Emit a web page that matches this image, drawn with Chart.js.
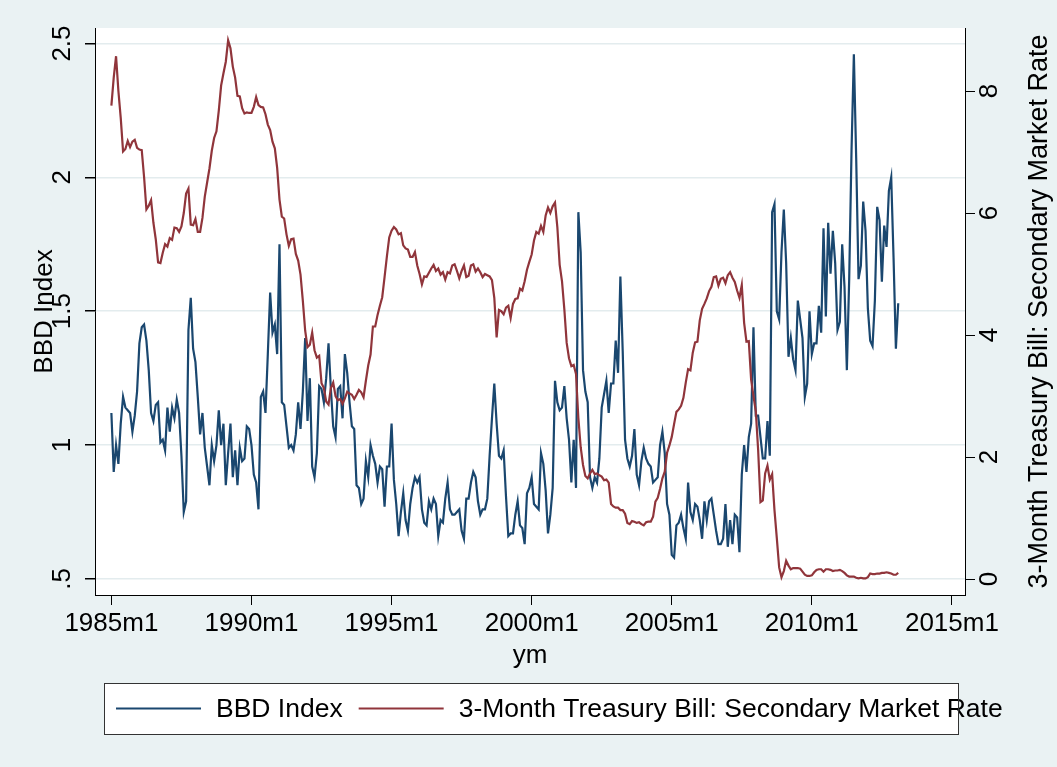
<!DOCTYPE html>
<html>
<head>
<meta charset="utf-8">
<title>BBD Index and 3-Month Treasury Bill</title>
<script src="https://cdn.jsdelivr.net/npm/chart.js@4.4.1/dist/chart.umd.min.js"></script>
<style>
  html, body { margin: 0; padding: 0; background: #eaf2f3; }
  #chart { display: block; }
</style>
</head>
<body>
<canvas id="chart" width="1057" height="767"></canvas>
<script>
// monthly values, the first one is 1985m1, the last one 2013m2
let bbd_index = [
    1.12, 0.90, 1.00, 0.93, 1.08, 1.18, 1.14, 1.13, 1.12, 1.05, 1.11, 1.20,
    1.38, 1.44, 1.45, 1.39, 1.28, 1.12, 1.09, 1.15, 1.16, 1.01, 1.02, 0.98,
    1.14, 1.05, 1.14, 1.10, 1.17, 1.12, 0.96, 0.75, 0.79, 1.43, 1.55, 1.36,
    1.31, 1.18, 1.04, 1.12, 0.99, 0.92, 0.85, 1.00, 0.94, 1.00, 1.13, 1.00,
    1.08, 0.85, 0.97, 1.08, 0.88, 0.98, 0.85, 0.99, 0.94, 0.95, 1.07, 1.06,
    1.00, 0.89, 0.86, 0.76, 1.18, 1.20, 1.12, 1.34, 1.57, 1.42, 1.45, 1.34,
    1.75, 1.16, 1.15, 1.07, 0.99, 1.00, 0.98, 1.04, 1.16, 1.06, 1.20, 1.40,
    1.09, 1.25, 0.92, 0.88, 0.97, 1.22, 1.21, 1.16, 1.25, 1.38, 1.21, 1.07,
    1.03, 1.21, 1.22, 1.10, 1.34, 1.27, 1.16, 1.07, 1.06, 0.85, 0.84, 0.78,
    0.80, 0.94, 0.88, 1.00, 0.96, 0.93, 0.86, 0.92, 0.91, 0.77, 0.92, 0.92,
    1.08, 0.87, 0.78, 0.66, 0.75, 0.82, 0.72, 0.68, 0.78, 0.84, 0.88, 0.86,
    0.88, 0.76, 0.71, 0.70, 0.79, 0.76, 0.80, 0.78, 0.66, 0.72, 0.71, 0.80,
    0.86, 0.76, 0.74, 0.74, 0.75, 0.76, 0.68, 0.65, 0.80, 0.80, 0.86, 0.90,
    0.88, 0.79, 0.74, 0.76, 0.76, 0.80, 0.96, 1.10, 1.23, 1.08, 0.96, 0.95,
    0.98, 0.81, 0.66, 0.67, 0.67, 0.74, 0.79, 0.70, 0.69, 0.63, 0.82, 0.84,
    0.88, 0.78, 0.77, 0.76, 0.97, 0.93, 0.83, 0.67, 0.74, 0.84, 1.24, 1.16,
    1.13, 1.14, 1.22, 1.10, 1.02, 0.86, 1.02, 0.84, 1.87, 1.72, 1.28, 1.20,
    1.16, 0.88, 0.84, 0.88, 0.86, 0.95, 1.14, 1.19, 1.24, 1.12, 1.23, 1.23,
    1.39, 1.27, 1.63, 1.35, 1.02, 0.95, 0.92, 0.96, 1.06, 0.89, 0.85, 0.94,
    0.99, 0.95, 0.93, 0.92, 0.86, 0.87, 0.88, 1.00, 1.05, 0.97, 0.78, 0.74,
    0.59, 0.58, 0.70, 0.71, 0.74, 0.69, 0.65, 0.86, 0.75, 0.72, 0.78, 0.77,
    0.72, 0.65, 0.79, 0.72, 0.79, 0.80, 0.74, 0.68, 0.63, 0.63, 0.65, 0.78,
    0.62, 0.72, 0.63, 0.74, 0.73, 0.60, 0.89, 1.00, 0.90, 1.03, 1.08, 1.44,
    1.11, 1.11, 1.03, 0.95, 0.95, 1.09, 0.96, 1.87, 1.90, 1.50, 1.47, 1.72,
    1.88, 1.68, 1.33, 1.40, 1.32, 1.28, 1.54, 1.47, 1.40, 1.18, 1.23, 1.50,
    1.34, 1.38, 1.38, 1.52, 1.42, 1.81, 1.48, 1.83, 1.64, 1.80, 1.68, 1.43,
    1.46, 1.75, 1.59, 1.28, 1.62, 2.10, 2.46, 2.07, 1.62, 1.67, 1.91, 1.80,
    1.51, 1.39, 1.37, 1.54, 1.89, 1.84, 1.61, 1.82, 1.74, 1.95, 2.00, 1.70,
    1.36, 1.53
];

let tbill_rate = [
    7.76, 8.22, 8.57, 8.00, 7.56, 7.01, 7.05, 7.18, 7.08, 7.17, 7.20, 7.07,
    7.04, 7.03, 6.59, 6.06, 6.12, 6.21, 5.84, 5.57, 5.19, 5.18, 5.35, 5.49,
    5.45, 5.59, 5.56, 5.76, 5.75, 5.69, 5.78, 6.00, 6.32, 6.40, 5.81, 5.80,
    5.90, 5.69, 5.69, 5.92, 6.27, 6.50, 6.73, 7.02, 7.23, 7.34, 7.68, 8.09,
    8.29, 8.48, 8.83, 8.70, 8.40, 8.22, 7.92, 7.91, 7.72, 7.63, 7.65, 7.64,
    7.64, 7.74, 7.90, 7.77, 7.74, 7.73, 7.62, 7.45, 7.36, 7.17, 7.06, 6.74,
    6.22, 5.94, 5.91, 5.65, 5.46, 5.57, 5.58, 5.33, 5.22, 4.99, 4.56, 4.07,
    3.80, 3.84, 4.04, 3.75, 3.63, 3.66, 3.21, 3.13, 2.91, 2.86, 3.13, 3.22,
    3.00, 2.93, 2.95, 2.87, 2.96, 3.07, 3.04, 3.02, 2.95, 3.02, 3.10, 3.06,
    2.98, 3.25, 3.50, 3.68, 4.14, 4.14, 4.33, 4.48, 4.62, 4.95, 5.29, 5.60,
    5.71, 5.77, 5.73, 5.65, 5.67, 5.47, 5.42, 5.40, 5.28, 5.28, 5.36, 5.14,
    5.00, 4.83, 4.96, 4.95, 5.02, 5.09, 5.15, 5.05, 5.09, 4.99, 5.03, 4.91,
    5.03, 5.01, 5.14, 5.16, 5.05, 4.93, 5.05, 5.14, 4.95, 4.97, 5.14, 5.16,
    5.04, 5.09, 5.03, 4.95, 5.00, 4.98, 4.96, 4.90, 4.61, 3.96, 4.41, 4.39,
    4.34, 4.45, 4.48, 4.28, 4.51, 4.59, 4.60, 4.76, 4.73, 4.88, 5.07, 5.20,
    5.32, 5.55, 5.69, 5.66, 5.79, 5.69, 5.96, 6.09, 6.00, 6.11, 6.17, 5.77,
    5.15, 4.88, 4.42, 3.87, 3.62, 3.49, 3.51, 3.36, 2.64, 2.16, 1.87, 1.69,
    1.65, 1.73, 1.79, 1.72, 1.73, 1.70, 1.68, 1.62, 1.63, 1.58, 1.23, 1.19,
    1.17, 1.17, 1.13, 1.13, 1.07, 0.92, 0.90, 0.95, 0.94, 0.92, 0.93, 0.90,
    0.88, 0.93, 0.94, 0.94, 1.02, 1.27, 1.33, 1.48, 1.65, 1.76, 2.07, 2.19,
    2.33, 2.54, 2.74, 2.78, 2.84, 2.97, 3.22, 3.44, 3.42, 3.71, 3.88, 3.89,
    4.24, 4.43, 4.51, 4.60, 4.72, 4.79, 4.95, 4.96, 4.81, 4.92, 4.94, 4.85,
    4.98, 5.03, 4.94, 4.87, 4.73, 4.61, 4.82, 4.20, 3.89, 3.90, 3.27, 3.00,
    2.75, 2.12, 1.26, 1.29, 1.73, 1.86, 1.63, 1.72, 1.13, 0.67, 0.19, 0.03,
    0.13, 0.30, 0.22, 0.16, 0.18, 0.18, 0.18, 0.17, 0.12, 0.07, 0.05, 0.05,
    0.06, 0.11, 0.15, 0.16, 0.16, 0.12, 0.16, 0.16, 0.15, 0.13, 0.14, 0.14,
    0.15, 0.13, 0.10, 0.06, 0.04, 0.04, 0.04, 0.02, 0.01, 0.02, 0.01, 0.01,
    0.03, 0.09, 0.08, 0.08, 0.09, 0.09, 0.10, 0.10, 0.11, 0.10, 0.09, 0.07,
    0.07, 0.10
];

// x is the month count from 1985m1
let x_ticks = [0, 60, 120, 180, 240, 300, 360];
let x_tick_labels = ["1985m1", "1990m1", "1995m1", "2000m1", "2005m1", "2010m1", "2015m1"];
let bbd_ticks = [0.5, 1, 1.5, 2, 2.5];
let bbd_tick_labels = [".5", "1", "1.5", "2", "2.5"];
let tbill_ticks = [0, 2, 4, 6, 8];
let tbill_tick_labels = ["0", "2", "4", "6", "8"];
let series_names = ["BBD Index", "3-Month Treasury Bill: Secondary Market Rate"];
let series_colors = ["#1a476f", "#90353b"];

let font_family = "'Liberation Sans', Arial, Helvetica, sans-serif";

function to_points(values) {
    let points = [];
    for (let i = 0; i < values.length; i++) {
        points.push({x: i, y: values[i]});
    }
    return points;
}

// grey page, white plot region
let background = {
    id: "background",
    beforeDraw: function (chart) {
        let ctx = chart.ctx;
        let area = chart.chartArea;
        ctx.save();
        ctx.fillStyle = "#eaf2f3";
        ctx.fillRect(0, 0, chart.width, chart.height);
        ctx.fillStyle = "#ffffff";
        ctx.fillRect(area.left, area.top, area.right - area.left, area.bottom - area.top);
        ctx.restore();
    }
};

// right axis title reads bottom to top, and the boxed legend under the axis
let extras = {
    id: "extras",
    afterDraw: function (chart) {
        let ctx = chart.ctx;
        let area = chart.chartArea;
        ctx.save();
        ctx.font = "27px " + font_family;
        ctx.fillStyle = "#000";
        ctx.textAlign = "center";
        ctx.textBaseline = "middle";
        ctx.translate(area.right + 75, (area.top + area.bottom) / 2);
        ctx.rotate(-Math.PI / 2);
        ctx.fillText(series_names[1], 0, 0);
        ctx.restore();

        let box_left = area.left + 9;
        let box_top = area.bottom + 88;
        let box_w = area.right - area.left - 16;
        let box_h = 51;
        ctx.save();
        ctx.fillStyle = "#ffffff";
        ctx.fillRect(box_left, box_top, box_w, box_h);
        let x = box_left + 12;
        let y = box_top + box_h / 2;
        ctx.font = "26.5px " + font_family;
        ctx.textBaseline = "middle";
        ctx.textAlign = "left";
        for (let i = 0; i < series_names.length; i++) {
            ctx.strokeStyle = series_colors[i];
            ctx.lineWidth = 2.2;
            ctx.beginPath();
            ctx.moveTo(x, y);
            ctx.lineTo(x + 85, y);
            ctx.stroke();
            x += 100;
            ctx.fillStyle = "#000";
            ctx.fillText(series_names[i], x, y + 1);
            x += ctx.measureText(series_names[i]).width + 16;
        }
        ctx.strokeStyle = "#333";
        ctx.lineWidth = 1;
        ctx.strokeRect(box_left + 0.5, box_top + 0.5, box_w, box_h);
        ctx.restore();
    }
};

Chart.defaults.font.family = font_family;
Chart.defaults.font.size = 26;
Chart.defaults.color = "#000";

new Chart("chart", {
    type: "line",
    data: {
        datasets: [{
            label: series_names[0],
            data: to_points(bbd_index),
            yAxisID: "y",
            borderColor: series_colors[0],
            borderWidth: 2.2,
            pointRadius: 0,
            fill: false,
            order: 1
        }, {
            label: series_names[1],
            data: to_points(tbill_rate),
            yAxisID: "y2",
            borderColor: series_colors[1],
            borderWidth: 2.2,
            pointRadius: 0,
            fill: false,
            order: 0
        }]
    },
    options: {
        responsive: false,
        animation: false,
        devicePixelRatio: 1,
        layout: {
            padding: {left: 0, right: 0, top: 28, bottom: 92}
        },
        plugins: {
            legend: {display: false},
            title: {display: false},
            tooltip: {enabled: false}
        },
        scales: {
            x: {
                type: "linear",
                min: -7.02,
                max: 365.6,
                afterBuildTicks: function (scale) {
                    scale.ticks = x_ticks.map(function (v) { return {value: v}; });
                },
                afterFit: function (scale) { scale.height = 80; },
                ticks: {
                    autoSkip: false,
                    maxRotation: 0,
                    padding: 3,
                    callback: function (value, index) { return x_tick_labels[index]; }
                },
                grid: {drawOnChartArea: false, tickLength: 10, tickColor: "#000"},
                border: {color: "#000", width: 1},
                title: {display: true, text: "ym", padding: {top: 0, bottom: 4}}
            },
            y: {
                type: "linear",
                position: "left",
                min: 0.440,
                max: 2.558,
                afterBuildTicks: function (scale) {
                    scale.ticks = bbd_ticks.map(function (v) { return {value: v}; });
                },
                afterFit: function (scale) { scale.width = 95; },
                ticks: {
                    autoSkip: false,
                    minRotation: 90,
                    maxRotation: 90,
                    crossAlign: "center",
                    padding: 4,
                    callback: function (value, index) { return bbd_tick_labels[index]; }
                },
                grid: {color: "#e3ecee", lineWidth: 1.5, tickLength: 10, tickColor: "#000"},
                border: {color: "#000", width: 1},
                title: {display: true, text: series_names[0], padding: {top: 29, bottom: 0}}
            },
            y2: {
                type: "linear",
                position: "right",
                min: -0.262,
                max: 9.033,
                afterBuildTicks: function (scale) {
                    scale.ticks = tbill_ticks.map(function (v) { return {value: v}; });
                },
                afterFit: function (scale) { scale.width = 92; },
                ticks: {
                    autoSkip: false,
                    minRotation: 90,
                    maxRotation: 90,
                    crossAlign: "center",
                    padding: 8,
                    callback: function (value, index) { return tbill_tick_labels[index]; }
                },
                grid: {drawOnChartArea: false, tickLength: 10, tickColor: "#000"},
                border: {color: "#000", width: 1}
            }
        }
    },
    plugins: [background, extras]
});
</script>
</body>
</html>
